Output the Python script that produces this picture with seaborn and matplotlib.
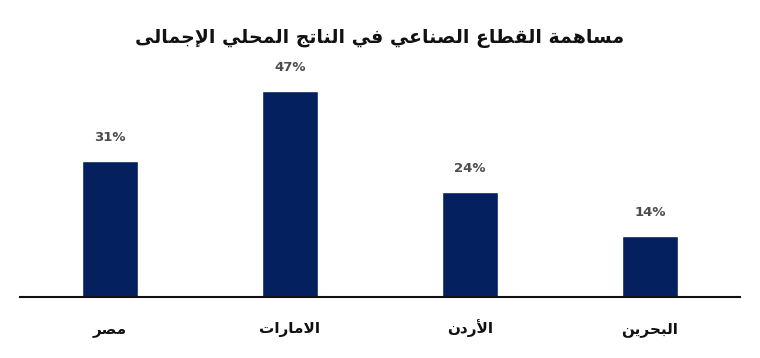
import matplotlib
matplotlib.use("Agg")
import matplotlib.pyplot as plt
import seaborn as sns
import pandas as pd

title = "مساهمة القطاع الصناعي في الناتج المحلي الإجمالى"
categories = ["مصر", "الامارات", "الأردن", "البحرين"]
values = [31, 47, 24, 14]
value_labels = ["31%", "47%", "24%", "14%"]

# --- minimal Arabic shaper (presentation forms B) ---
FORMS = {
    '\u0627': (0xFE8D, 0xFE8E, None, None),
    '\u0623': (0xFE83, 0xFE84, None, None),
    '\u0625': (0xFE87, 0xFE88, None, None),
    '\u0622': (0xFE81, 0xFE82, None, None),
    '\u0628': (0xFE8F, 0xFE90, 0xFE91, 0xFE92),
    '\u0629': (0xFE93, 0xFE94, None, None),
    '\u062A': (0xFE95, 0xFE96, 0xFE97, 0xFE98),
    '\u062C': (0xFE9D, 0xFE9E, 0xFE9F, 0xFEA0),
    '\u062D': (0xFEA1, 0xFEA2, 0xFEA3, 0xFEA4),
    '\u062F': (0xFEA9, 0xFEAA, None, None),
    '\u0631': (0xFEAD, 0xFEAE, None, None),
    '\u0633': (0xFEB1, 0xFEB2, 0xFEB3, 0xFEB4),
    '\u0635': (0xFEB9, 0xFEBA, 0xFEBB, 0xFEBC),
    '\u0637': (0xFEC1, 0xFEC2, 0xFEC3, 0xFEC4),
    '\u0639': (0xFEC9, 0xFECA, 0xFECB, 0xFECC),
    '\u0641': (0xFED1, 0xFED2, 0xFED3, 0xFED4),
    '\u0642': (0xFED5, 0xFED6, 0xFED7, 0xFED8),
    '\u0644': (0xFEDD, 0xFEDE, 0xFEDF, 0xFEE0),
    '\u0645': (0xFEE1, 0xFEE2, 0xFEE3, 0xFEE4),
    '\u0646': (0xFEE5, 0xFEE6, 0xFEE7, 0xFEE8),
    '\u0647': (0xFEE9, 0xFEEA, 0xFEEB, 0xFEEC),
    '\u0649': (0xFEEF, 0xFEF0, None, None),
    '\u064A': (0xFEF1, 0xFEF2, 0xFEF3, 0xFEF4),
}
LAMALEF = {'\u0627': (0xFEFB, 0xFEFC), '\u0623': (0xFEF7, 0xFEF8),
           '\u0625': (0xFEF9, 0xFEFA), '\u0622': (0xFEF5, 0xFEF6)}


def dual(c):
    return c in FORMS and FORMS[c][2] is not None


def shape(text):
    chars = []
    i = 0
    while i < len(text):
        c = text[i]
        if c == '\u0644' and i + 1 < len(text) and text[i + 1] in LAMALEF:
            chars.append(('LA', text[i + 1]))
            i += 2
        else:
            chars.append(('C', c))
            i += 1
    out = []
    for k, (kind, c) in enumerate(chars):
        prev = chars[k - 1] if k > 0 else None
        nxt = chars[k + 1] if k + 1 < len(chars) else None
        prev_joins = prev is not None and prev[0] == 'C' and dual(prev[1])
        if kind == 'LA':
            iso, fin = LAMALEF[c]
            out.append(chr(fin if prev_joins else iso))
            continue
        if c not in FORMS:
            out.append(c)
            continue
        iso, fin, ini, med = FORMS[c]
        next_arabic = nxt is not None and (nxt[0] == 'LA' or nxt[1] in FORMS)
        next_joins = ini is not None and next_arabic
        if prev_joins and next_joins:
            out.append(chr(med))
        elif prev_joins:
            out.append(chr(fin))
        elif next_joins:
            out.append(chr(ini))
        else:
            out.append(chr(iso))
    return ''.join(out)[::-1]


sns.set_theme(style="white")
plt.rcParams['font.family'] = ['DejaVu Sans']

df = pd.DataFrame({"country": [shape(c) for c in categories], "value": values})

fig = plt.figure(figsize=(7.6, 3.58), dpi=100)
W, H = 760, 358
ax = fig.add_axes([20 / W, (H - 297) / H, 720 / W, (297 - 56) / H])

sns.barplot(data=df, x="country", y="value", color="#04205E", width=0.31,
            saturation=1, ax=ax)
ax.set_ylim(0, 55)
ax.set_xlim(-0.5, 3.5)

for p, lab in zip(ax.patches, value_labels):
    ax.annotate(lab, (p.get_x() + p.get_width() / 2, p.get_height()),
                xytext=(0, 12), textcoords="offset points", ha="center",
                va="bottom", fontsize=9.5, fontweight="bold", color="#4d4d4d")

ax.set_xlabel("")
ax.set_ylabel("")
ax.set_yticks([])
ax.tick_params(axis="x", length=0, pad=26)
for t in ax.get_xticklabels():
    t.set_fontsize(11)
    t.set_fontweight("bold")
    t.set_color("#111111")
    t.set_verticalalignment("baseline")
for s in ["top", "left", "right"]:
    ax.spines[s].set_visible(False)
ax.spines["bottom"].set_color("#111111")
ax.spines["bottom"].set_linewidth(1.5)

fig.text(0.5, (H - 38) / H, shape(title), ha="center", va="center",
         fontsize=13.6, fontweight="bold", color="#111111")

fig.savefig("out.png", dpi=100, facecolor="white")
